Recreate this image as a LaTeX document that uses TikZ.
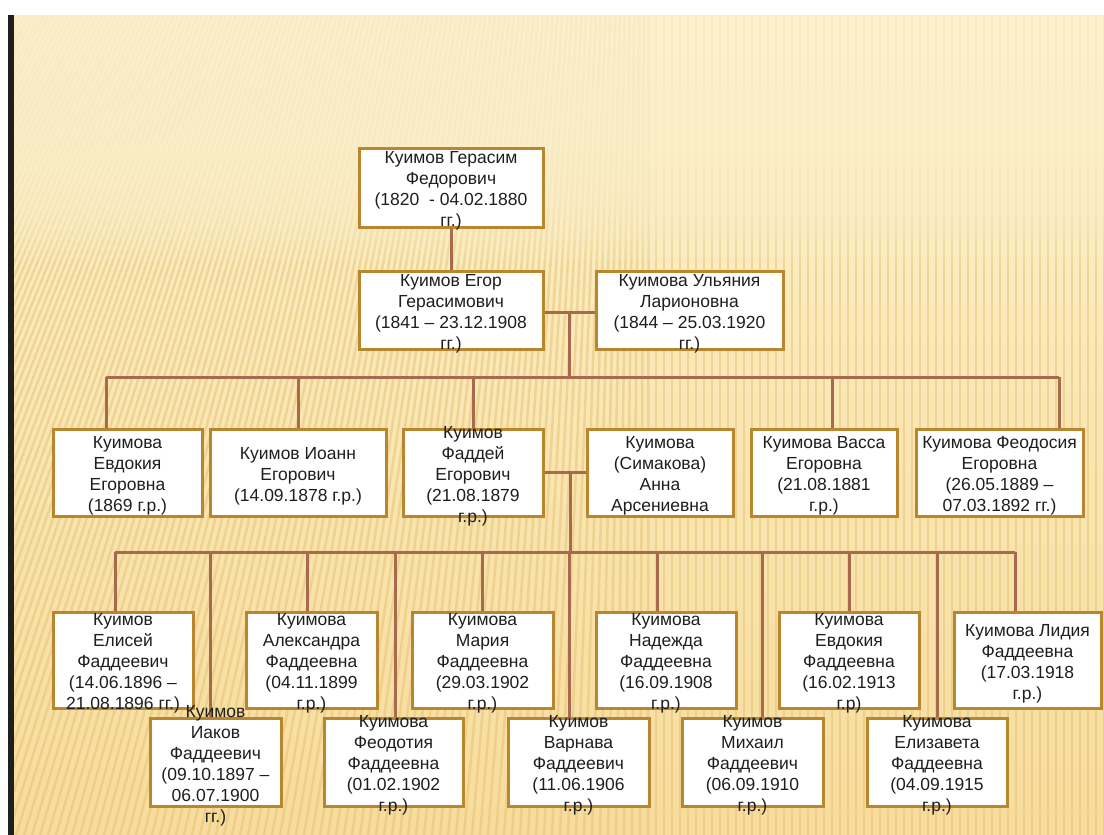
\documentclass[tikz,border=0pt]{standalone}
\usepackage{fontspec}
\setmainfont{Liberation Sans}
\definecolor{cream}{HTML}{FDF1CC}
\definecolor{creamlow}{HTML}{F7DC9C}
\definecolor{stripe}{HTML}{E4C273}
\definecolor{boxline}{HTML}{B7862F}
\definecolor{conncol}{HTML}{A86A4E}
\definecolor{txt}{HTML}{1E1E1E}
\pgfdeclarelayer{back}
\pgfdeclarelayer{links}
\pgfsetlayers{back,links,main}
\tikzset{
 box/.style={draw=boxline, line width=3pt, fill=white, rectangle, inner sep=0pt,
   text=txt, font=\fontsize{17.5}{21}\selectfont},
 conn/.style={draw=conncol, line width=3pt},
 stripeline/.style={draw=stripe, line width=2.5pt, opacity=0.5},
}
\newcommand{\boxtxt}[1]{\smash{\raisebox{-8pt}{\begin{tabular}{@{}c@{}}#1\end{tabular}}}}
\newcommand{\famb}[6]{\node[box, minimum width={#4-#3}, minimum height={#6-#5}] (#1) at ({(#3+#4)/2},{(#5+#6)/2}) {\boxtxt{#2}};}
\begin{document}
\begin{tikzpicture}[x=1pt,y=-1pt]
\useasboundingbox (0,0) rectangle (1104,835);
\begin{pgfonlayer}{back}
\fill[white] (0,0) rectangle (1104,835);
\shade[top color=cream, bottom color=creamlow] (14,15) rectangle (1104,835);
\begin{scope}
\clip (14,15) rectangle (1104,835);
\foreach \i in {0,...,220}{
  \pgfmathsetmacro{\xb}{-600+\i*8}
  \pgfmathsetmacro{\xt}{\xb < 650 ? \xb + 0.4*(650-\xb) : \xb}
  \draw[stripeline] (\xb,835) -- (\xt,15);
}
\foreach \k in {1,...,22}{
  \fill[cream, opacity=0.16] (14,15) rectangle (1104,{40+\k*10});
}
\end{scope}
\fill[black!88] (8,15) rectangle (14,835);
\end{pgfonlayer}

% generation 1 and 2
\famb{top}{Куимов Герасим\\Федорович\\(1820\ \ - 04.02.1880\\гг.)}{359}{543}{148}{227}
\famb{egor}{Куимов Егор\\Герасимович\\(1841 – 23.12.1908\\гг.)}{359}{543}{271}{349}
\famb{ulya}{Куимова Ульяния\\Ларионовна\\(1844 – 25.03.1920\\гг.)}{596}{783}{271}{349}

% generation 3
\famb{evd}{Куимова\\Евдокия\\Егоровна\\(1869 г.р.)}{53}{202}{429}{516}
\famb{ioann}{Куимов Иоанн\\Егорович\\(14.09.1878 г.р.)}{210}{386}{429}{516}
\famb{fad}{Куимов\\Фаддей\\Егорович\\(21.08.1879\\г.р.)}{403}{543}{429}{516}
\famb{anna}{Куимова\\(Симакова)\\Анна\\Арсениевна}{587}{733}{429}{516}
\famb{vassa}{Куимова Васса\\Егоровна\\(21.08.1881\\г.р.)}{751}{897}{429}{516}
\famb{feod}{Куимова Феодосия\\Егоровна\\(26.05.1889 –\\07.03.1892 гг.)}{916}{1083}{429}{516}

% generation 4, upper row
\famb{elis}{Куимов\\Елисей\\Фаддеевич\\(14.06.1896 –\\21.08.1896 гг.)}{53}{193}{612}{708}
\famb{alex}{Куимова\\Александра\\Фаддеевна\\(04.11.1899\\г.р.)}{246}{377}{612}{708}
\famb{maria}{Куимова\\Мария\\Фаддеевна\\(29.03.1902\\г.р.)}{412}{553}{612}{708}
\famb{nad}{Куимова\\Надежда\\Фаддеевна\\(16.09.1908\\г.р.)}{596}{736}{612}{708}
\famb{evdb}{Куимова\\Евдокия\\Фаддеевна\\(16.02.1913\\г.р)}{779}{919}{612}{708}
\famb{lid}{Куимова Лидия\\Фаддеевна\\(17.03.1918\\г.р.)}{954}{1101}{612}{708}

% generation 4, lower row
\famb{iakov}{Куимов\\Иаков\\Фаддеевич\\(09.10.1897 –\\06.07.1900\\гг.)}{150}{281}{718}{806}
\famb{feodt}{Куимова\\Феодотия\\Фаддеевна\\(01.02.1902\\г.р.)}{324}{463}{718}{806}
\famb{varn}{Куимов\\Варнава\\Фаддеевич\\(11.06.1906\\г.р.)}{508}{649}{718}{806}
\famb{mikh}{Куимов\\Михаил\\Фаддеевич\\(06.09.1910\\г.р.)}{682}{823}{718}{806}
\famb{eliz}{Куимова\\Елизавета\\Фаддеевна\\(04.09.1915\\г.р.)}{867}{1007}{718}{806}

\begin{pgfonlayer}{links}
\coordinate (m1) at (569,312);
\coordinate (b1) at (569,377);
\coordinate (m2) at (570,472);
\coordinate (b2) at (570,552);
\draw[conn] (top.south) -- (egor.north);
\draw[conn] (egor.east |- m1) -- (ulya.west |- m1);
\draw[conn] (m1) -- (b1);
\draw[conn] ([xshift=-21.5pt]evd.north |- b1) -- ([xshift=59.5pt]feod.north |- b1);
\draw[conn] ([xshift=-21.5pt]evd.north |- b1) -- ([xshift=-21.5pt]evd.north);
\draw[conn] (ioann.north |- b1) -- (ioann.north);
\draw[conn] (fad.north |- b1) -- (fad.north);
\draw[conn] ([xshift=8pt]vassa.north |- b1) -- ([xshift=8pt]vassa.north);
\draw[conn] ([xshift=59.5pt]feod.north |- b1) -- ([xshift=59.5pt]feod.north);

\draw[conn] (fad.east |- m2) -- (anna.west |- m2);
\draw[conn] (m2) -- (b2);
\draw[conn] ([xshift=-8pt]elis.north |- b2) -- ([xshift=-12.5pt]lid.north |- b2);
\draw[conn] ([xshift=-8pt]elis.north |- b2) -- ([xshift=-8pt]elis.north);
\draw[conn] ([xshift=-5.5pt]iakov.north |- b2) -- ([xshift=-5.5pt]iakov.north);
\draw[conn] ([xshift=-4.5pt]alex.north |- b2) -- ([xshift=-4.5pt]alex.north);
\draw[conn] ([xshift=1.5pt]feodt.north |- b2) -- ([xshift=1.5pt]feodt.north);
\draw[conn] (maria.north |- b2) -- (maria.north);
\draw[conn] ([xshift=-9.5pt]varn.north |- b2) -- ([xshift=-9.5pt]varn.north);
\draw[conn] ([xshift=-9pt]nad.north |- b2) -- ([xshift=-9pt]nad.north);
\draw[conn] ([xshift=9.5pt]mikh.north |- b2) -- ([xshift=9.5pt]mikh.north);
\draw[conn] (evdb.north |- b2) -- (evdb.north);
\draw[conn] (eliz.north |- b2) -- (eliz.north);
\draw[conn] ([xshift=-12.5pt]lid.north |- b2) -- ([xshift=-12.5pt]lid.north);
\end{pgfonlayer}
\end{tikzpicture}
\end{document}
